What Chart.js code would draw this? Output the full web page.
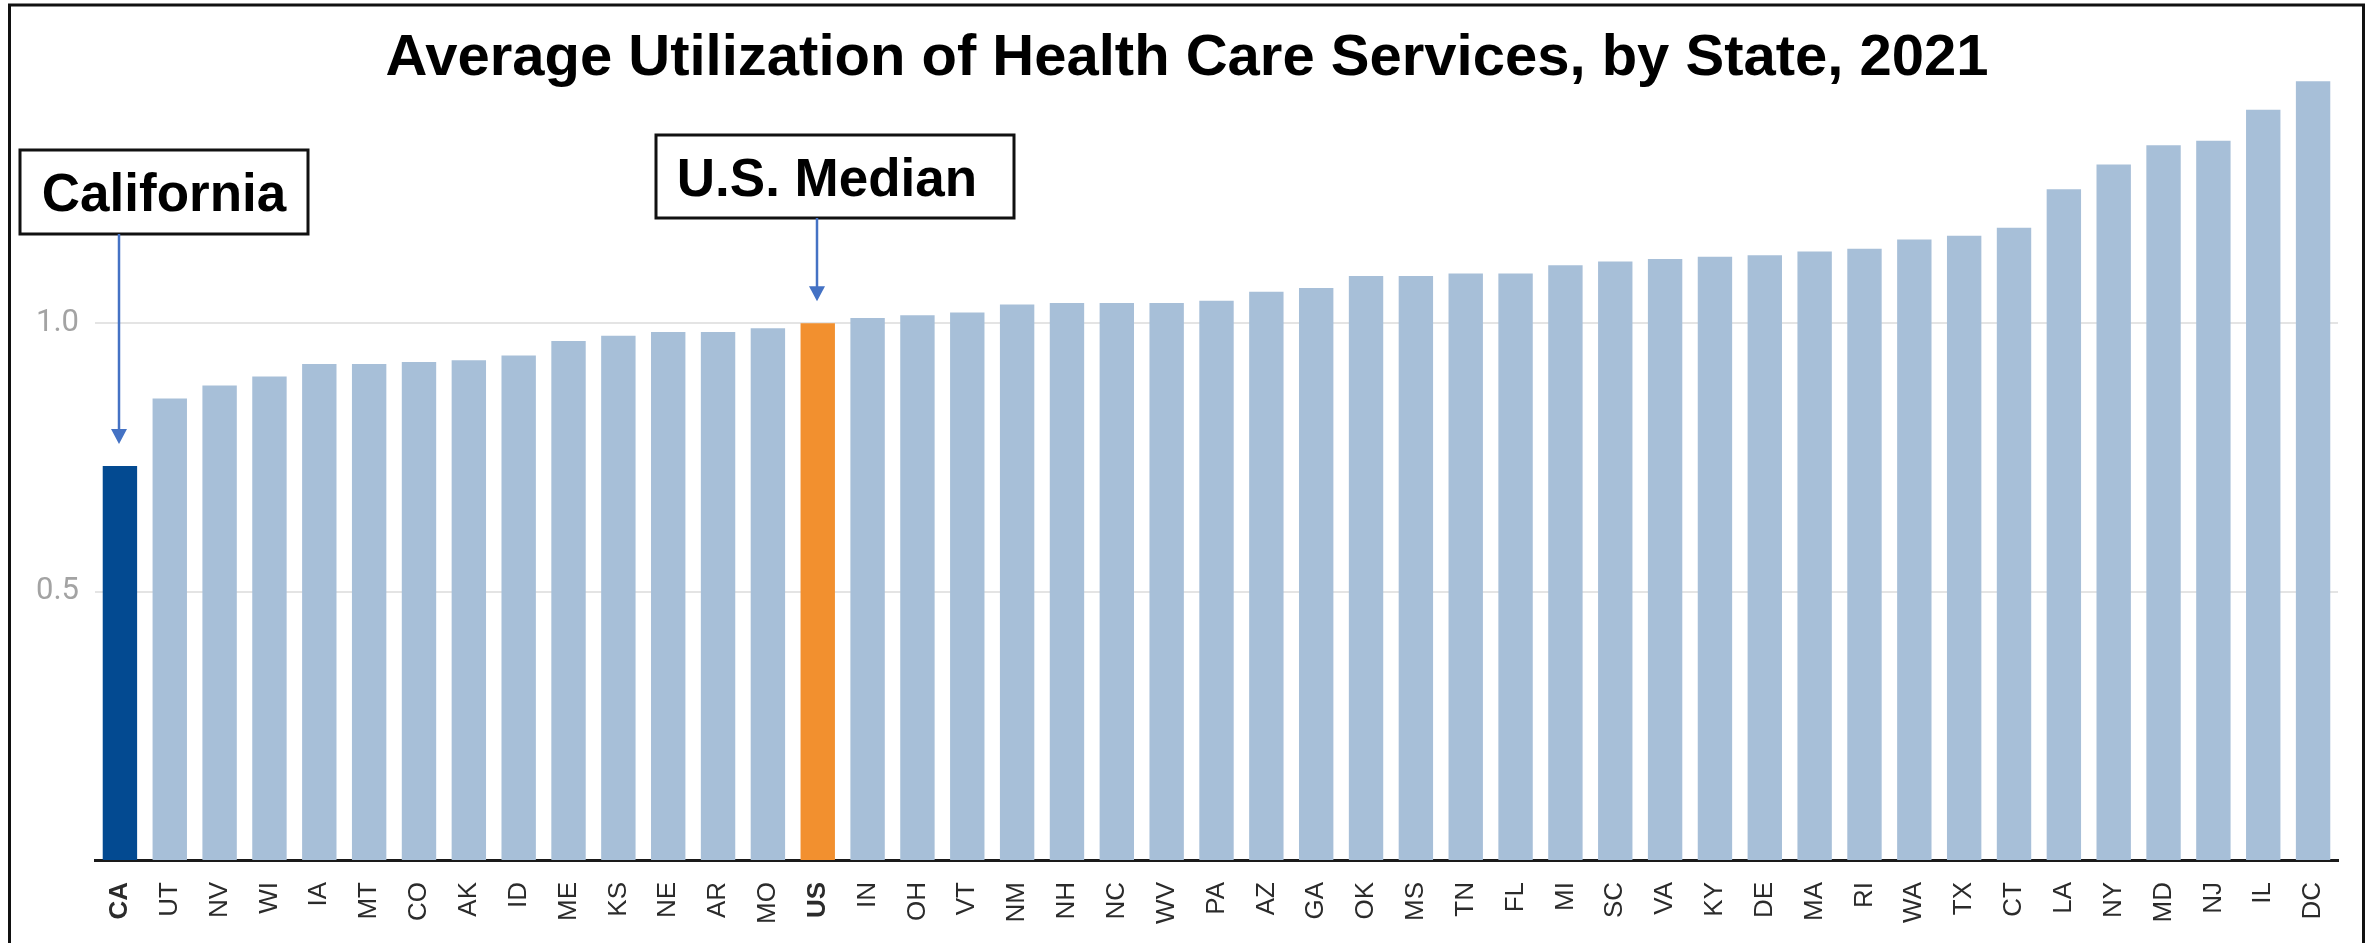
<!DOCTYPE html>
<html>
<head>
<meta charset="utf-8">
<script src="https://cdn.jsdelivr.net/npm/chart.js@4.4.1/dist/chart.umd.min.js"></script>
<style>
  html, body { margin: 0; padding: 0; background: #ffffff; }
  #wrap { width: 2367px; height: 943px; position: relative; }
</style>
</head>
<body>
<div id="wrap"><canvas id="c" width="2367" height="943"></canvas></div>
<script>
const chartTitle = 'Average Utilization of Health Care Services, by State, 2021';
const states = ['CA','UT','NV','WI','IA','MT','CO','AK','ID','ME','KS','NE','AR','MO','US','IN','OH','VT','NM','NH','NC','WV','PA','AZ','GA','OK','MS','TN','FL','MI','SC','VA','KY','DE','MA','RI','WA','TX','CT','LA','NY','MD','NJ','IL','DC'];
const values = [0.734,0.860,0.884,0.901,0.924,0.924,0.928,0.931,0.940,0.967,0.977,0.984,0.984,0.991,1.000,1.010,1.015,1.020,1.035,1.038,1.038,1.038,1.042,1.059,1.066,1.088,1.088,1.093,1.093,1.108,1.115,1.120,1.124,1.127,1.134,1.139,1.156,1.163,1.178,1.250,1.296,1.332,1.340,1.398,1.451];
const yTicks = [0.5, 1.0];
const boldStates = ['CA', 'US'];
const callouts = [
  { state: 'CA', text: 'California', box: [20, 150, 288, 84], dx: 0 },
  { state: 'US', text: 'U.S. Median', box: [656, 135, 358, 83], dx: -8 }
];

const COLOR_CA = '#034a91';
const COLOR_US = '#f2902f';
const COLOR_OTHER = '#a7bfd8';
const barColors = states.map(s => s === 'CA' ? COLOR_CA : (s === 'US' ? COLOR_US : COLOR_OTHER));

const overlay = {
  id: 'overlay',
  afterDraw(chart) {
    const ctx = chart.ctx;
    const xs = chart.scales.x, ys = chart.scales.y;
    ctx.save();
    ctx.strokeStyle = '#111';
    ctx.lineWidth = 3;
    ctx.strokeRect(9.5, 5, 2354, 960);
    ctx.fillStyle = '#000';
    ctx.font = 'bold 58px "Liberation Sans", Arial, sans-serif';
    ctx.textAlign = 'center';
    ctx.textBaseline = 'alphabetic';
    ctx.fillText(chartTitle, 1187, 75);
    callouts.forEach(c => {
      const [bx, by, bw, bh] = c.box;
      ctx.fillStyle = '#fff';
      ctx.fillRect(bx, by, bw, bh);
      ctx.strokeStyle = '#111';
      ctx.lineWidth = 3;
      ctx.strokeRect(bx, by, bw, bh);
      ctx.fillStyle = '#000';
      ctx.font = 'bold 53px "Liberation Sans", Arial, sans-serif';
      ctx.textAlign = 'center';
      ctx.textBaseline = 'alphabetic';
      ctx.fillText(c.text, bx + bw / 2 + c.dx, by + bh / 2 + 19);
      const idx = states.indexOf(c.state);
      const ax = Math.round(xs.getPixelForValue(idx)) - 1;
      const tipY = ys.getPixelForValue(values[idx]) - 22;
      ctx.strokeStyle = '#4472c4';
      ctx.fillStyle = '#4472c4';
      ctx.lineWidth = 2.5;
      ctx.beginPath();
      ctx.moveTo(ax, by + bh);
      ctx.lineTo(ax, tipY - 14);
      ctx.stroke();
      ctx.beginPath();
      ctx.moveTo(ax - 8, tipY - 15);
      ctx.lineTo(ax + 8, tipY - 15);
      ctx.lineTo(ax, tipY);
      ctx.closePath();
      ctx.fill();
    });
    ctx.restore();
  }
};

new Chart(document.getElementById('c'), {
  type: 'bar',
  data: {
    labels: states,
    datasets: [{
      data: values,
      backgroundColor: barColors,
      borderWidth: 0,
      categoryPercentage: 1.0,
      barPercentage: 0.69
    }]
  },
  options: {
    responsive: false,
    devicePixelRatio: 1,
    animation: false,
    layout: { padding: { top: 55, left: 0, right: 29, bottom: 0 } },
    plugins: { legend: { display: false }, title: { display: false }, tooltip: { enabled: false } },
    scales: {
      x: {
        grid: { display: false, drawTicks: false },
        border: { display: true, color: '#1a1a1a', width: 3 },
        afterFit(scale) { scale.height = 83; },
        ticks: {
          autoSkip: false,
          minRotation: 90,
          maxRotation: 90,
          padding: 22,
          color: '#2b2b2b',
          font: (c) => ({
            family: '"Liberation Sans", Arial, sans-serif',
            size: 26,
            weight: boldStates.includes(states[c.index]) ? 'bold' : 'normal'
          })
        }
      },
      y: {
        min: 0,
        max: 1.5,
        afterFit(scale) { scale.width = 95; },
        afterBuildTicks(scale) { scale.ticks = yTicks.map(v => ({ value: v })); },
        grid: { color: '#e4e4e4', lineWidth: 2, drawTicks: false },
        border: { display: false },
        ticks: {
          padding: 16,
          color: '#a3a3a3',
          font: { family: 'Roboto, "Liberation Sans", sans-serif', size: 31 },
          callback: (v) => Number(v).toFixed(1)
        }
      }
    }
  },
  plugins: [overlay]
});
</script>
</body>
</html>
